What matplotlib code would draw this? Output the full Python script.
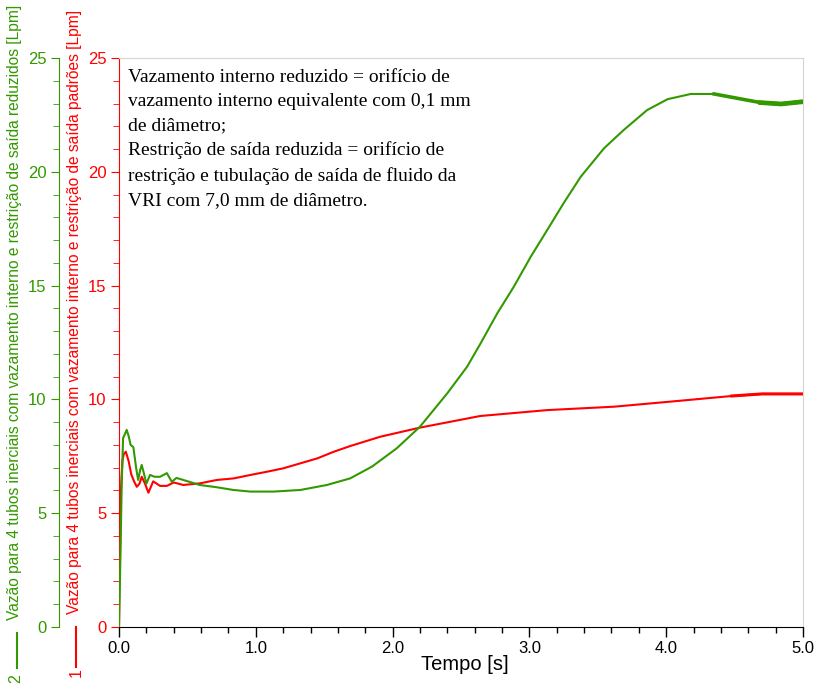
import matplotlib
matplotlib.use('Agg')
import matplotlib.pyplot as plt
from matplotlib.lines import Line2D
from matplotlib.ticker import MultipleLocator, FormatStrFormatter

plt.rcParams['font.family'] = ['Liberation Sans', 'DejaVu Sans']

# curve 1 (red) - standard leakage / outlet restriction
t_red = [0, 0.004, 0.008, 0.012, 0.018, 0.025, 0.035, 0.05, 0.07, 0.09, 0.11,
         0.13, 0.15, 0.166, 0.19, 0.215, 0.25, 0.3, 0.35, 0.4, 0.47, 0.59,
         0.715, 0.84, 0.96, 1.08, 1.2, 1.325, 1.45, 1.57, 1.69, 1.91, 2.2,
         2.64, 3.13, 3.62, 4.1, 4.48, 4.7, 5.0]
q_red = [0, 2.6, 3.3, 5.7, 6.5, 7.3, 7.6, 7.7, 7.3, 6.7, 6.4,
         6.16, 6.3, 6.6, 6.3, 5.9, 6.4, 6.2, 6.2, 6.35, 6.24, 6.31,
         6.46, 6.53, 6.68, 6.82, 6.97, 7.19, 7.41, 7.7, 7.95, 8.36, 8.76,
         9.27, 9.53, 9.68, 9.94, 10.15, 10.24, 10.24]

# curve 2 (green) - reduced leakage / outlet restriction
t_green = [0, 0.01, 0.02, 0.03, 0.045, 0.056, 0.07, 0.085, 0.105, 0.125, 0.14,
           0.155, 0.166, 0.18, 0.2, 0.227, 0.26, 0.3, 0.35, 0.386, 0.42, 0.47,
           0.59, 0.715, 0.837, 0.96, 1.13, 1.325, 1.52, 1.69, 1.85, 2.03, 2.2,
           2.4, 2.545, 2.643, 2.765, 2.886, 3.01, 3.13, 3.25, 3.375, 3.545,
           3.69, 3.86, 4.01, 4.18, 4.35, 4.52, 4.69, 4.84, 5.0]
q_green = [0, 3.0, 6.3, 8.3, 8.5, 8.66, 8.4, 8.0, 7.9, 7.0, 6.46,
           6.9, 7.12, 6.8, 6.3, 6.68, 6.6, 6.6, 6.76, 6.38, 6.55, 6.46,
           6.24, 6.14, 6.02, 5.95, 5.95, 6.02, 6.24, 6.53, 7.05, 7.85, 8.80,
           10.27, 11.44, 12.46, 13.78, 14.95, 16.27, 17.44, 18.62, 19.78, 21.03,
           21.84, 22.71, 23.19, 23.42, 23.42, 23.23, 23.04, 22.98, 23.08]

label_red = 'Vazão para 4 tubos inerciais com vazamento interno e restrição de saída padrões [Lpm]'
label_green = 'Vazão para 4 tubos inerciais com vazamento interno e restrição de saída reduzidos [Lpm]'
note = ('Vazamento interno reduzido = orifício de\n'
        'vazamento interno equivalente com 0,1 mm\n'
        'de diâmetro;\n'
        'Restrição de saída reduzida = orifício de\n'
        'restrição e tubulação de saída de fluido da\n'
        'VRI com 7,0 mm de diâmetro.')

RED = '#ff0000'
GREEN = '#339900'
W, H = 819, 688

fig = plt.figure(figsize=(W / 100, H / 100), dpi=100)
ax = fig.add_axes([119 / W, 61 / H, 684 / W, 569 / H])
ax2 = ax.twinx()

ax2.plot(t_green, q_green, color=GREEN, lw=1.5)
# thicker tail like the original trace
ax2.plot(t_green[-5:], q_green[-5:], color=GREEN, lw=2.6)
ax2.plot(t_green[-3:], q_green[-3:], color=GREEN, lw=3.4)
ax.plot(t_red, q_red, color=RED, lw=1.5)
ax.plot(t_red[-3:], q_red[-3:], color=RED, lw=2.2)

for a in (ax, ax2):
    a.set_xlim(0, 5)
    a.set_ylim(0, 25)
    a.yaxis.set_major_locator(MultipleLocator(5))
    a.yaxis.set_minor_locator(MultipleLocator(1))

ax.xaxis.set_major_locator(MultipleLocator(1))
ax.xaxis.set_minor_locator(MultipleLocator(0.2))
ax.xaxis.set_major_formatter(FormatStrFormatter('%.1f'))
ax.tick_params(axis='x', which='major', length=7, width=1, labelsize=12, pad=3)
ax.tick_params(axis='x', which='minor', length=4, width=1)

ax.spines['left'].set_color(RED)
ax.tick_params(axis='y', which='both', colors=RED, labelsize=12, pad=3)
ax.tick_params(axis='y', which='major', length=6)
ax.tick_params(axis='y', which='minor', length=4)
for s in ('top', 'right'):
    ax.spines[s].set_color('#d4d4d4')
for s in ('top', 'right', 'bottom'):
    ax2.spines[s].set_visible(False)

ax2.spines['left'].set_visible(True)
ax2.spines['left'].set_position(('outward', 43.2))
ax2.spines['left'].set_color(GREEN)
ax2.yaxis.set_ticks_position('left')
ax2.tick_params(axis='y', which='both', colors=GREEN, labelsize=12, pad=3)
ax2.tick_params(axis='y', which='major', length=6)
ax2.tick_params(axis='y', which='minor', length=4)

fig.text(465 / W, 1 - 665 / H, 'Tempo [s]', ha='center', va='center', fontsize=14.5)

# axis titles with their series markers
fig.text(75 / W, 1 - 614 / H, label_red, rotation=90, ha='center', va='bottom',
         color=RED, fontsize=11.2)
fig.add_artist(Line2D([76 / W, 76 / W], [1 - 667 / H, 1 - 627 / H], color=RED, lw=1.5))
fig.text(76 / W, 1 - 673 / H, '1', rotation=90, ha='center', va='center',
         color=RED, fontsize=11.5)
fig.text(15 / W, 1 - 620 / H, label_green, rotation=90, ha='center', va='bottom',
         color=GREEN, fontsize=11.2)
fig.add_artist(Line2D([17 / W, 17 / W], [1 - 668 / H, 1 - 633 / H], color=GREEN, lw=1.5))
fig.text(16 / W, 1 - 679 / H, '2', rotation=90, ha='center', va='center',
         color=GREEN, fontsize=11.5)

fig.text(128 / W, 1 - 69 / H, note, ha='left', va='top', fontsize=14,
         family=['Liberation Serif', 'DejaVu Serif'], linespacing=1.54)

fig.savefig('out.png', dpi=100)
